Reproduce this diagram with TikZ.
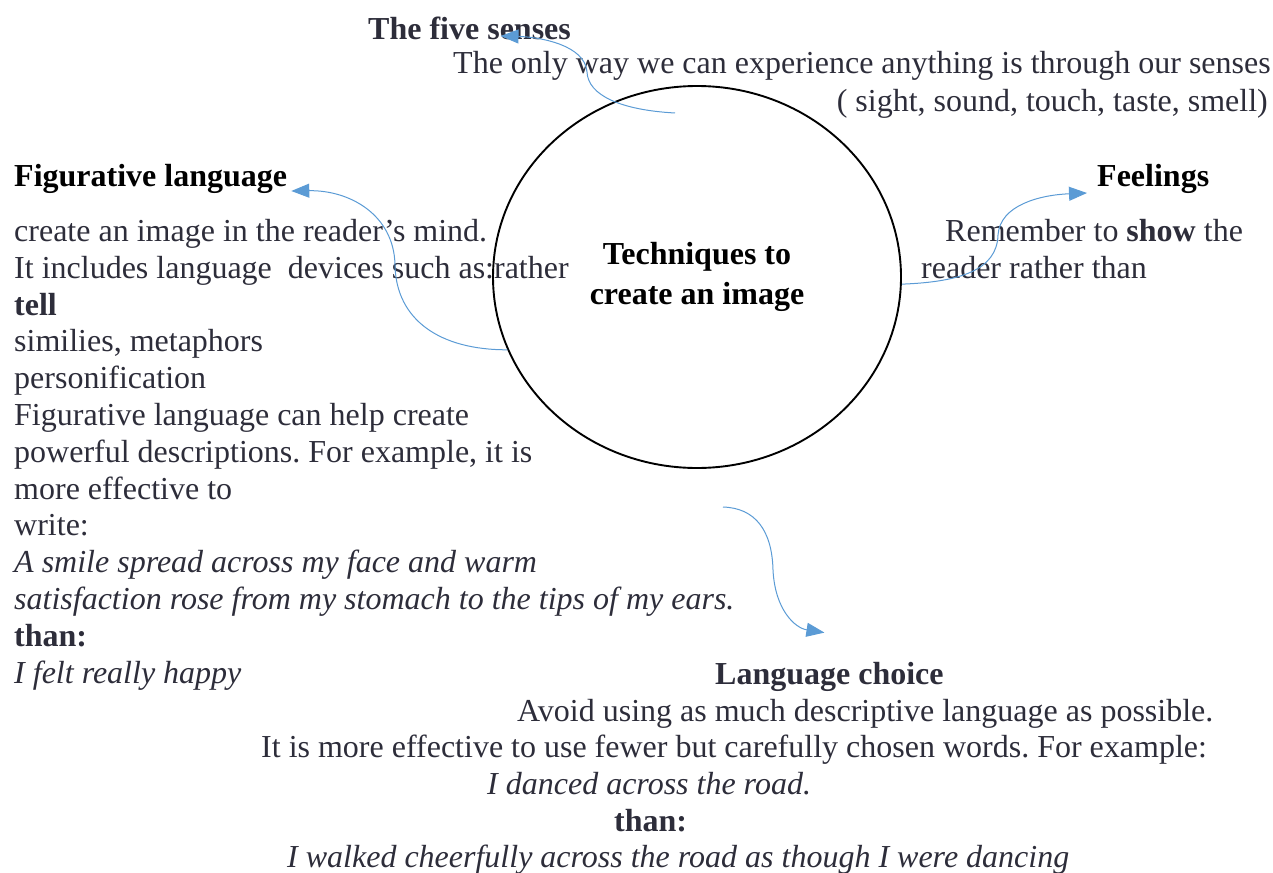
\documentclass[tikz,border=0pt]{standalone}
\usepackage{fontspec}
\setmainfont{Liberation Serif}
\usetikzlibrary{arrows.meta,shapes.geometric}
\definecolor{inkgray}{RGB}{45,45,58}
\definecolor{arrowblue}{RGB}{91,155,213}
\frenchspacing

\begin{document}
\begin{tikzpicture}[x=1pt, y=-1pt,
		every node/.style={inner sep=0pt, font=\fontsize{32}{36.8}\selectfont, text=inkgray},
		heading/.style={font=\fontsize{32}{36.8}\selectfont\bfseries, anchor=base west},
		linetext/.style={anchor=base west},
		bluearrow/.style={draw=arrowblue, line width=1pt, -{Triangle[length=18pt,width=14pt]}}
		]
		\useasboundingbox (0,0) rectangle (1273,872);
		
		% centre
		\node[draw=black, text=black, ellipse, line width=1.9pt, minimum width=408pt,
		minimum height=382pt, align=center, font=\fontsize{32}{40}\selectfont\bfseries]
		(core) at (697,277) {Techniques to\\create an image};
		
		% top
		\node[heading](senses) at (368,40) {The five senses};
		\node[linetext](sensesA) at (453,74) {The only way we can experience anything is through our senses};
		\node[anchor=base east](sensesB) at (1268,111) {( sight, sound, touch, taste, smell)};
		
		% left (anchored on its last line)
		\node[heading, text=black](figur) at (14,186) {Figurative language};
		\node[linetext, align=left](figurA) at (14,683) {create an image in the reader’s mind.\\
			It includes language\ \ devices such as:rather\\
			\textbf{tell}\\
			similies, metaphors\\
			personification\\
			Figurative language can help create\\
			powerful descriptions. For example, it is\\
			more effective to\\
			write:\\
			\textit{A smile spread across my face and warm}\\
			\textit{satisfaction rose from my stomach to the tips of my ears.}\\
			\textbf{than:}\\
			\textit{I felt really happy}};
		
		% right
		\node[heading, text=black](feel) at (1097,186) {Feelings};
		\node[linetext](feelA) at (945,241) {Remember to \textbf{show} the};
		\node[linetext](feelB) at (921,278) {reader rather than};
		
		% bottom
		\node[heading](choice) at (715,684) {Language choice};
		\node[linetext](choiceA) at (517,721) {Avoid using as much descriptive language as possible.};
		\node[linetext](choiceB) at (261,757) {It is more effective to use fewer but carefully chosen words. For example:};
		\node[linetext](choiceC) at (487,794) {\itshape I danced across the road.};
		\node[linetext](choiceD) at (614,831) {\bfseries than:};
		\node[linetext](choiceE) at (287,867) {\itshape I walked cheerfully across the road as though I were dancing};
		
		% connectors
		\coordinate (fromtop) at (675,113);
		\coordinate (frombottom) at (723,507);
		\draw[bluearrow] (fromtop) .. controls (620,110) and (588,95) .. (587,72)
		.. controls (585,45) and (540,37) .. ([xshift=31pt,yshift=4pt]senses.base);
		\draw[bluearrow] (core.201) .. controls (440,350) and (396,320) .. (395,265)
		.. controls (394,215) and (350,190) .. ([shift={(4pt,-5pt)}]figur.base east);
		\draw[bluearrow] (core.-2) .. controls (960,282) and (997,270) .. (998,235)
		.. controls (1000,205) and (1040,195) .. ([shift={(-10pt,-7pt)}]feel.base west);
		\draw[bluearrow] (frombottom) .. controls (755,508) and (772,530) .. (773,570)
		.. controls (775,610) and (795,628) .. ([shift={(-5pt,29pt)}]choice.north);
	\end{tikzpicture}
\end{document}
